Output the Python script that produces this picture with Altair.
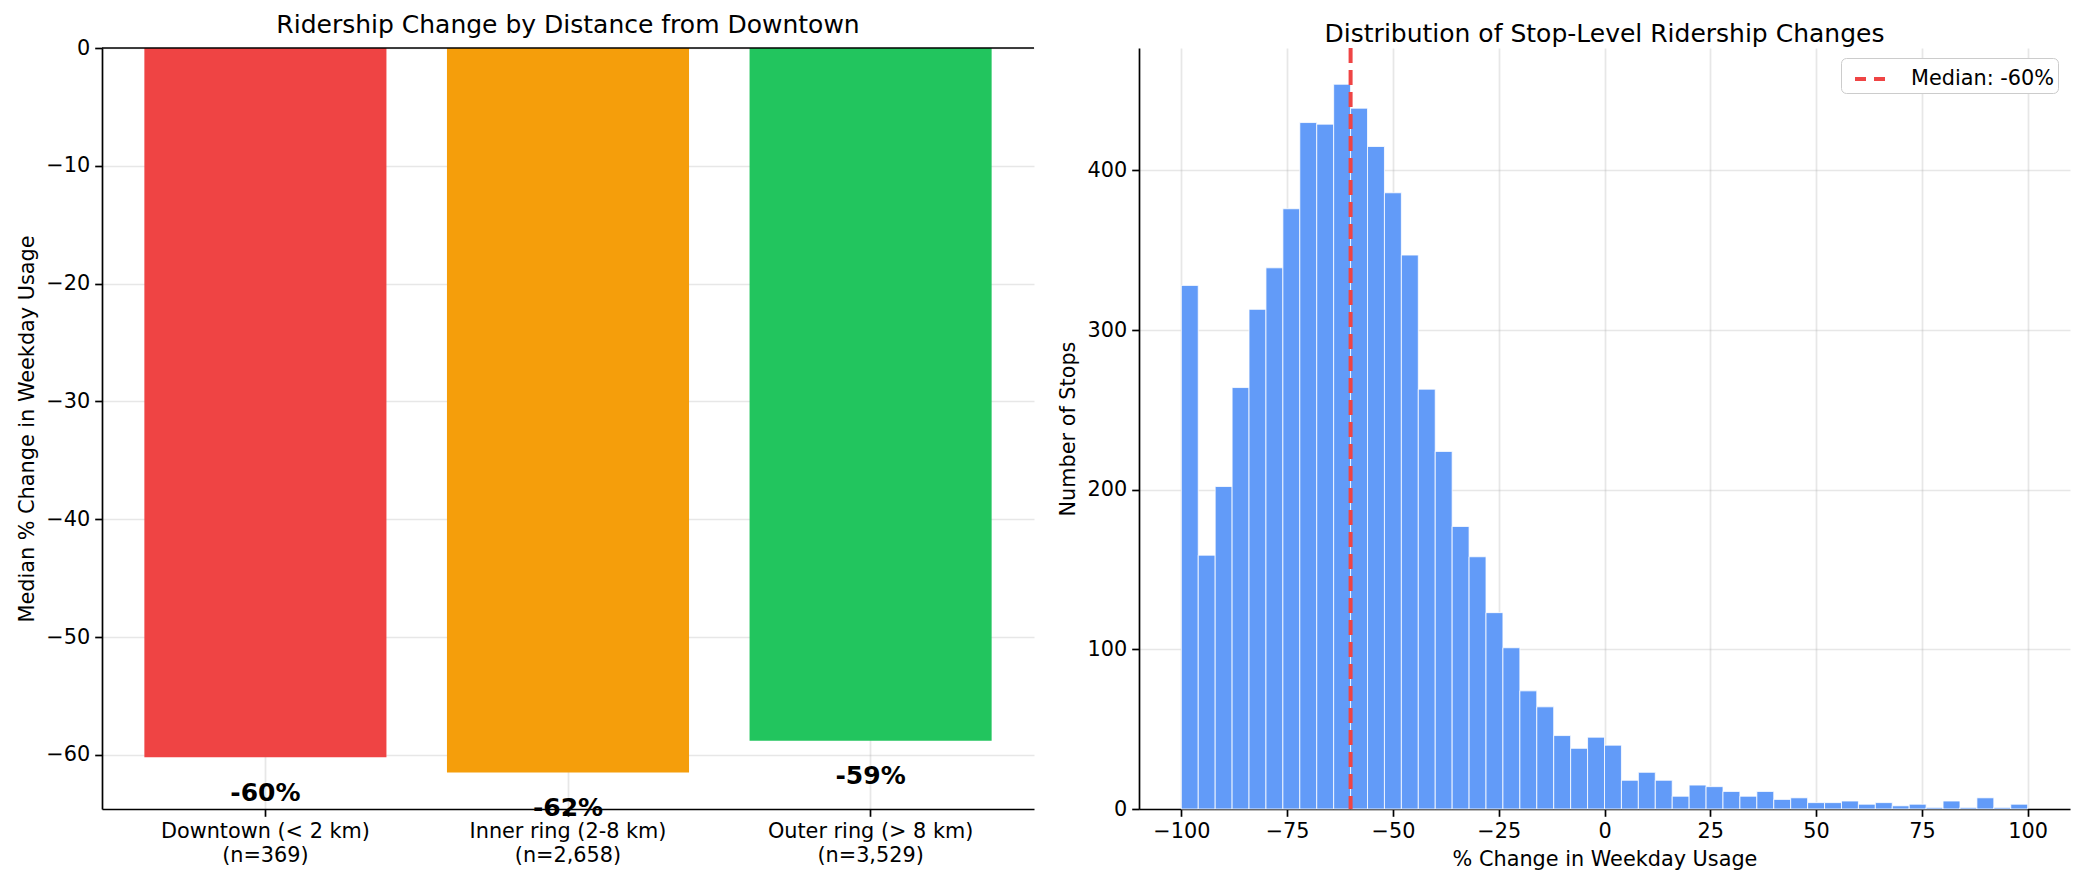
import altair as alt
import pandas as pd

# ---------------- data ----------------
categories = [
    "Downtown (< 2 km)\n(n=369)",
    "Inner ring (2-8 km)\n(n=2,658)",
    "Outer ring (> 8 km)\n(n=3,529)",
]
medians = [-60.2, -61.5, -58.8]
median_labels = ["-60%", "-62%", "-59%"]
bar_colors = ["#EF4444", "#F59E0B", "#22C55E"]

bin_starts = list(range(-100, 100, 4))
bin_width = 4
counts = [
    328, 159, 202, 264, 313, 339, 376, 430, 429, 454,
    439, 415, 386, 347, 263, 224, 177, 158, 123, 101,
    74, 64, 46, 38, 45, 40, 18, 23, 18, 8,
    15, 14, 11, 8, 11, 6, 7, 4, 4, 5,
    3, 4, 2, 3, 1, 5, 1, 7, 1, 3,
]
overall_median = -60
median_legend = "Median: -60%"

FONT = "DejaVu Sans"

df_left = pd.DataFrame({
    "category": categories,
    "median": medians,
    "label": median_labels,
    "color": bar_colors,
})
df_hist = pd.DataFrame({
    "bin_start": bin_starts,
    "bin_end": [b + bin_width for b in bin_starts],
    "count": counts,
})
df_med = pd.DataFrame({"x": [overall_median], "label": [median_legend]})
df_zero = pd.DataFrame({"y": [0]})

minus_expr = "replace(format(datum.value, 'd'), '-', '\u2212')"

# ---------------- left chart ----------------
x_left = alt.X(
    "category:N",
    sort=categories,
    scale=alt.Scale(paddingInner=0.2, paddingOuter=0.14),
    axis=alt.Axis(
        title=None,
        labelAngle=0,
        labelExpr="split(datum.label, '\\n')",
        labelLineHeight=24,
        labelLimit=0,
        grid=True,
        labelPadding=5,
    ),
)
y_left = alt.Y(
    "median:Q",
    scale=alt.Scale(domain=[-64.6, 0], nice=False),
    axis=alt.Axis(
        title="Median % Change in Weekday Usage",
        values=[0, -10, -20, -30, -40, -50, -60],
        labelExpr=minus_expr,
        titlePadding=8,
        grid=True,
    ),
)

bars = alt.Chart(df_left).mark_bar().encode(
    x=x_left,
    y=y_left,
    color=alt.Color("color:N", scale=None),
)
zero_rule = alt.Chart(df_zero).mark_rule(color="black", strokeWidth=1.7).encode(
    y=alt.Y("y:Q")
)
bar_text = alt.Chart(df_left).transform_calculate(
    label_y="datum.median - 3"
).mark_text(
    font=FONT, fontSize=25, fontWeight="bold", baseline="middle", align="center", color="black"
).encode(
    x=alt.X("category:N", sort=categories),
    y=alt.Y("label_y:Q"),
    text="label:N",
)

left = alt.layer(bars, zero_rule, bar_text).properties(
    width=932, height=761,
    title="Ridership Change by Distance from Downtown",
)

# ---------------- right chart ----------------
hist = alt.Chart(df_hist).mark_bar(
    fill="#629BF8", stroke="#FFFFFF", strokeWidth=1, strokeOpacity=0.8
).encode(
    x=alt.X(
        "bin_start:Q",
        scale=alt.Scale(domain=[-110, 110], nice=False, zero=False),
        axis=alt.Axis(
            title="% Change in Weekday Usage",
            values=[-100, -75, -50, -25, 0, 25, 50, 75, 100],
            labelExpr=minus_expr,
            titlePadding=8,
            grid=True,
        ),
    ),
    x2="bin_end:Q",
    y=alt.Y(
        "count:Q",
        scale=alt.Scale(domain=[0, 476.7], nice=False),
        axis=alt.Axis(
            title="Number of Stops",
            values=[0, 100, 200, 300, 400],
            titlePadding=9,
            grid=True,
        ),
    ),
    y2=alt.datum(0),
)

med_rule = alt.Chart(df_med).mark_rule(strokeWidth=4, strokeDash=[15, 7]).encode(
    x=alt.X("x:Q"),
    stroke=alt.Stroke(
        "label:N",
        scale=alt.Scale(domain=[median_legend], range=["#EF4444"]),
        legend=alt.Legend(
            title=None,
            orient="none",
            legendX=702,
            legendY=10,
            symbolType="stroke",
            symbolStrokeWidth=4,
            symbolDash=[11, 8],
            symbolSize=900,
            symbolOffset=8,
            labelOffset=24,
            labelFont=FONT,
            labelFontSize=20.8,
            labelColor="black",
            fillColor="white",
            strokeColor="#cccccc",
            cornerRadius=5,
            padding=4,
        ),
    ),
)

right = alt.layer(hist, med_rule).properties(
    width=931, height=761,
    title="Distribution of Stop-Level Ridership Changes",
)

chart = alt.hconcat(left, right, spacing=22).resolve_scale(
    stroke="independent", color="independent"
).resolve_legend(
    stroke="independent", color="independent"
).properties(
    padding={"left": 8, "top": 5, "right": 5, "bottom": 5}
).configure_view(
    strokeWidth=0
).configure_axis(
    labelFont=FONT,
    labelFontSize=20.8,
    labelColor="black",
    titleFont=FONT,
    titleFontSize=20.8,
    titleFontWeight="normal",
    titleColor="black",
    domainColor="black",
    domainWidth=1.7,
    tickColor="black",
    tickWidth=1.7,
    tickSize=7.3,
    labelPadding=5,
    gridColor="#b0b0b0",
    gridOpacity=0.3,
    gridWidth=1.7,
    zindex=1,
).configure_title(
    font=FONT,
    fontSize=25,
    fontWeight="normal",
    color="black",
    anchor="middle",
    frame="group",
    offset=-1,
    baseline="alphabetic",
)

chart.save("out.html", embed_options={"renderer": "svg", "actions": False})
